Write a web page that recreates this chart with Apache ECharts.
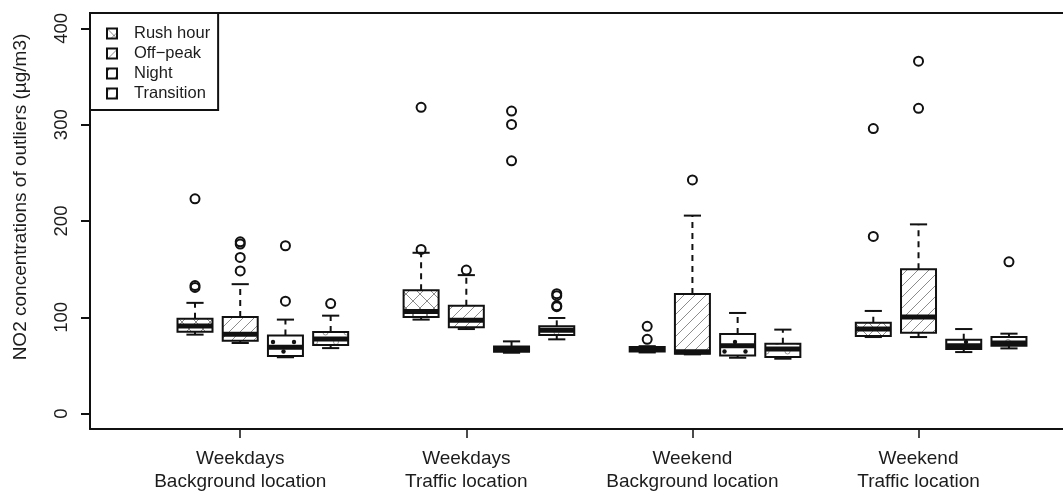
<!DOCTYPE html>
<html>
<head>
<meta charset="utf-8">
<script src="https://cdn.jsdelivr.net/npm/echarts@6/dist/echarts.min.js"></script>
<style>
  html, body { margin: 0; padding: 0; background: #fff; }
  #chart { width: 1063px; height: 494px; }
</style>
</head>
<body>
<div id="chart"></div>
<script>
// Site / day groups along the x axis
const groupLabels = [
  'Weekdays\nBackground location',
  'Weekdays\nTraffic location',
  'Weekend\nBackground location',
  'Weekend\nTraffic location'
];
const periods = ['Rush hour', 'Off\u2212peak', 'Night', 'Transition'];
const yTicks = [0, 100, 200, 300, 400];

// Box statistics per period, one row per group: [lower whisker, Q1, median, Q3, upper whisker]
const rushHour = [
  [82, 85, 91, 98.6, 115],
  [97.6, 100.3, 106, 128, 167],
  [63.5, 64.6, 67, 69.1, 70],
  [79.5, 80.6, 87.8, 94.4, 106.6]
];
const offPeak = [
  [73.3, 75.7, 82.3, 100.3, 134.4],
  [87.8, 89.6, 97, 112, 143.8],
  [61.5, 62.2, 64.3, 124.3, 205.6],
  [79.5, 84, 100.3, 150, 196.5]
];
const night = [
  [58.5, 59.7, 69, 81.2, 97.6],
  [63.2, 64.2, 67, 69.8, 75],
  [58, 60.4, 70.5, 82.6, 104.5],
  [63.9, 67, 70.5, 76.7, 87.8]
];
const transition = [
  [68, 71.2, 77.4, 84.7, 101.7],
  [77.1, 81.6, 86.5, 90.6, 99.3],
  [57, 58.7, 67, 72.6, 87.2],
  [67.7, 70.5, 73.3, 79.5, 83]
];

// Outlying values per period, one list per group
const rushHourOut = [[223, 133, 131], [318, 170.5], [90.6, 77.1], [296, 184]];
const offPeakOut = [[178.4, 176, 162.2, 148.2], [149], [242.7], [366, 317]];
const nightOut = [[174.3, 116.7], [314.2, 300.3, 262.5], [], []];
const transitionOut = [[114.2], [124.5, 122.5, 112, 111], [], [157.6]];

const boxStats = [rushHour, offPeak, night, transition];
const outliers = [rushHourOut, offPeakOut, nightOut, transitionOut];

// Hatch fills drawn into small repeating tiles
function tile(w, h, draw) {
  const c = document.createElement('canvas');
  c.width = w; c.height = h;
  const g = c.getContext('2d');
  g.fillStyle = '#fff';
  g.fillRect(0, 0, w, h);
  draw(g, w, h);
  return { image: c, repeat: 'repeat' };
}
const fills = [
  tile(14, 14, (g, w, h) => {
    g.strokeStyle = '#8c8c8c'; g.lineWidth = 1;
    g.beginPath();
    g.moveTo(0, 0); g.lineTo(w, h);
    g.moveTo(0, h); g.lineTo(w, 0);
    g.stroke();
  }),
  tile(11, 11, (g, w, h) => {
    g.strokeStyle = '#8c8c8c'; g.lineWidth = 1;
    g.beginPath();
    g.moveTo(-1, h + 1); g.lineTo(w + 1, -1);
    g.moveTo(-2, 2); g.lineTo(2, -2);
    g.moveTo(w - 2, h + 2); g.lineTo(w + 2, h - 2);
    g.stroke();
  }),
  tile(21, 19, (g, w, h) => {
    g.fillStyle = '#111';
    [[0, 0], [w, 0], [0, h], [w, h], [w / 2, h / 2]].forEach(([x, y]) => {
      g.beginPath(); g.arc(x, y, 2.2, 0, Math.PI * 2); g.fill();
    });
  }),
  tile(21, 19, (g, w, h) => {
    g.strokeStyle = '#9a9a9a'; g.lineWidth = 1;
    [[0, 0], [w, 0], [0, h], [w, h], [w / 2, h / 2]].forEach(([x, y]) => {
      g.beginPath(); g.arc(x, y, 2.5, 0, Math.PI * 2); g.stroke();
    });
  })
];

const INK = '#111';
const HALF_BOX = 0.387;   // half box width in x units
const HALF_STAPLE = 0.19;

// x position of a box: groups of four, one empty slot between groups
const slot = (group, period) => group * 5 + period + 1;

function renderBox(params, api) {
  const x = api.value(0);
  const lo = api.value(1), q1 = api.value(2), md = api.value(3), q3 = api.value(4), hi = api.value(5);
  const pL = api.coord([x - HALF_BOX, q3]);
  const pR = api.coord([x + HALF_BOX, q1]);
  const c = api.coord([x, md]);
  const yHi = api.coord([x, hi])[1];
  const yLo = api.coord([x, lo])[1];
  const sL = api.coord([x - HALF_STAPLE, 0])[0];
  const sR = api.coord([x + HALF_STAPLE, 0])[0];
  const whisker = { stroke: INK, lineWidth: 2, lineDash: [6, 5] };
  const solid = { stroke: INK, lineWidth: 2 };
  return {
    type: 'group',
    children: [
      { type: 'line', shape: { x1: c[0], y1: pL[1], x2: c[0], y2: yHi }, style: whisker },
      { type: 'line', shape: { x1: c[0], y1: pR[1], x2: c[0], y2: yLo }, style: whisker },
      { type: 'line', shape: { x1: sL, y1: yHi, x2: sR, y2: yHi }, style: solid },
      { type: 'line', shape: { x1: sL, y1: yLo, x2: sR, y2: yLo }, style: solid },
      {
        type: 'rect',
        shape: { x: pL[0], y: pL[1], width: pR[0] - pL[0], height: pR[1] - pL[1] },
        style: { fill: fills[params.seriesIndex], stroke: INK, lineWidth: 2 }
      },
      {
        type: 'line',
        shape: { x1: pL[0], y1: c[1], x2: pR[0], y2: c[1] },
        style: { stroke: INK, lineWidth: 5, lineCap: 'butt' }
      }
    ]
  };
}

const boxSeries = periods.map((name, p) => ({
  name,
  type: 'custom',
  renderItem: renderBox,
  itemStyle: { color: fills[p], borderColor: INK, borderWidth: 1.2 },
  encode: { x: 0, y: [1, 2, 3, 4, 5] },
  data: boxStats[p].map((s, g) => [slot(g, p)].concat(s)),
  z: 2
}));

const outlierData = [];
outliers.forEach((perPeriod, p) => {
  perPeriod.forEach((vals, g) => {
    vals.forEach(v => outlierData.push([slot(g, p), v]));
  });
});

const FONT = '"Liberation Sans", Arial, sans-serif';
const TEXT = '#1c1c1c';
const X_MIN = -1.322, X_MAX = 20.195;

const chart = echarts.init(document.getElementById('chart'), null, { renderer: 'canvas' });
chart.setOption({
  animation: false,
  backgroundColor: '#fff',
  grid: { left: 90, top: 13, bottom: 65, right: 0 },
  legend: {
    data: periods,
    orient: 'vertical',
    left: 90, top: 13,
    icon: 'rect',
    itemWidth: 10, itemHeight: 10,
    itemGap: 3.0,
    padding: [12, 8, 8, 16],
    borderColor: INK, borderWidth: 2,
    backgroundColor: '#fff',
    selectedMode: false,
    textStyle: { fontFamily: FONT, fontSize: 16.5, color: TEXT, lineHeight: 16, padding: [0, 0, 0, 12] }
  },
  xAxis: [{
    type: 'value',
    min: X_MIN, max: X_MAX,
    splitLine: { show: false },
    axisLine: { show: true, onZero: false, lineStyle: { color: INK, width: 2 } },
    axisTick: { show: true, customValues: [2, 7, 12, 17], length: 9, lineStyle: { color: INK, width: 1.5 } },
    axisLabel: {
      customValues: [2, 7, 12, 17],
      formatter: v => groupLabels[Math.round((v - 2) / 5)],
      fontFamily: FONT, fontSize: 19, color: TEXT, lineHeight: 23, margin: 18
    }
  }, {
    // top frame line
    type: 'value',
    position: 'top',
    min: X_MIN, max: X_MAX,
    splitLine: { show: false },
    axisLine: { show: true, onZero: false, lineStyle: { color: INK, width: 2 } },
    axisTick: { show: false },
    axisLabel: { show: false }
  }],
  yAxis: {
    type: 'value',
    min: -16, max: 416,
    name: 'NO2 concentrations of outliers (\u00b5g/m3)',
    nameLocation: 'middle',
    nameGap: 60,
    nameTextStyle: { fontFamily: FONT, fontSize: 19, color: TEXT, padding: [0, 0, 0, 48] },
    splitLine: { show: false },
    axisLine: { show: true, onZero: false, lineStyle: { color: INK, width: 2 } },
    axisTick: { show: true, customValues: yTicks, length: 9, lineStyle: { color: INK, width: 2 } },
    axisLabel: {
      customValues: yTicks,
      rotate: 90,
      fontFamily: FONT, fontSize: 18.5, color: TEXT, margin: 19
    }
  },
  series: boxSeries.concat([{
    name: 'outliers',
    type: 'scatter',
    symbol: 'circle',
    symbolSize: 9,
    itemStyle: { color: 'rgba(0,0,0,0)', borderColor: INK, borderWidth: 2, opacity: 1 },
    data: outlierData,
    z: 3
  }])
});
</script>
</body>
</html>
